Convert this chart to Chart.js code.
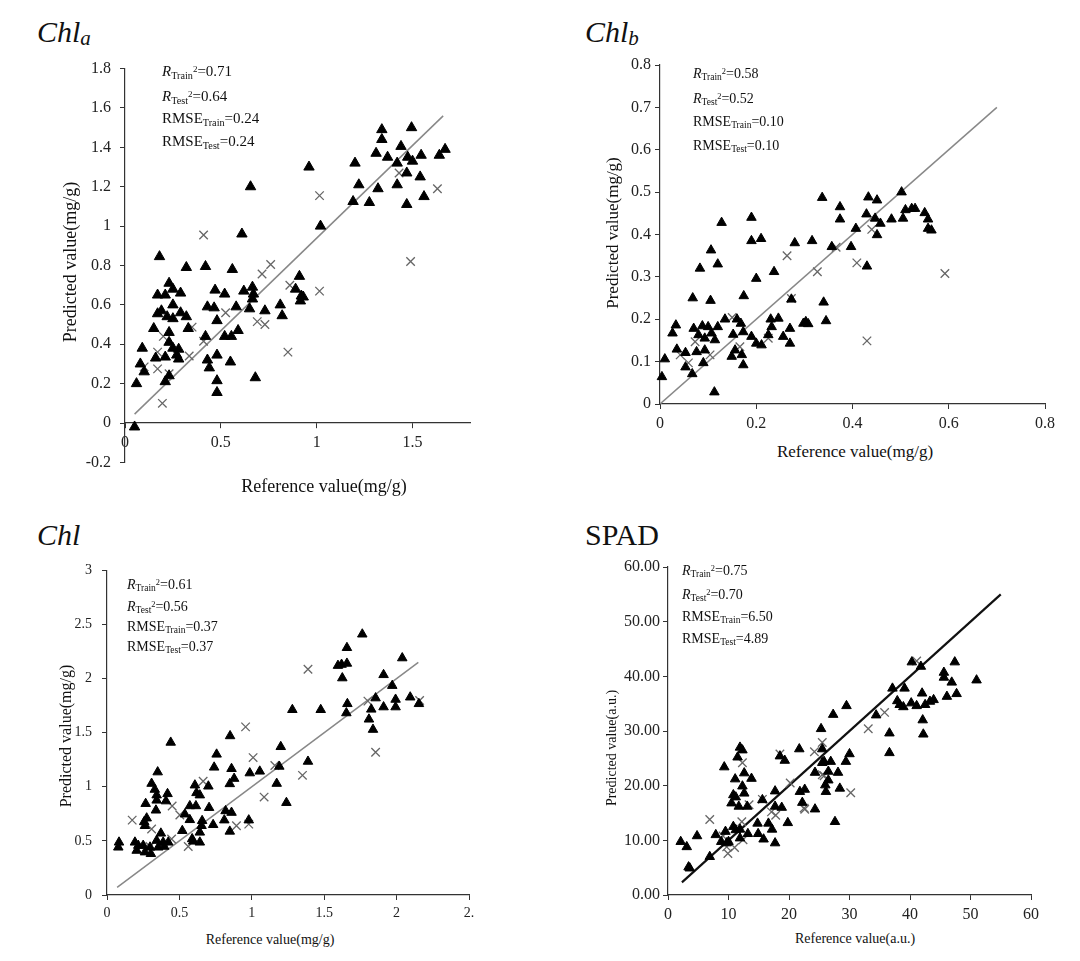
<!DOCTYPE html>
<html>
<head>
<meta charset="utf-8">
<script src="https://cdn.jsdelivr.net/npm/chart.js@4.4.1/dist/chart.umd.min.js"></script>
<style>
  body { margin: 0; background: #fff; font-family: "Liberation Serif", "Times New Roman", serif; color: #111; }
  #page { position: relative; width: 1080px; height: 961px; overflow: hidden; }
  .box { position: absolute; }
  .txt { position: absolute; white-space: nowrap; }
  .ptitle { font-size: 30px; line-height: 30px; font-style: italic; }
  .ptitle sub { font-size: 21px; vertical-align: -3px; }
  .stats sub { font-size: 0.68em; vertical-align: -0.25em; }
  .stats sup { font-size: 0.6em; vertical-align: 0.45em; }
  .ytitle { transform: translate(-50%, -50%) rotate(-90deg); }
  .xtitle { transform: translate(-50%, -50%); }
</style>
</head>
<body>
<div id="page">
  <div class="txt ptitle" style="left:37px;top:17px">Chl<sub>a</sub></div>
  <div class="txt ptitle" style="left:585px;top:17px">Chl<sub>b</sub></div>
  <div class="txt ptitle" style="left:37px;top:520px">Chl</div>
  <div class="txt ptitle" style="left:585px;top:520px;font-style:normal">SPAD</div>

  <div class="box" style="left:60px;top:50px"><canvas id="c1" width="430" height="431"></canvas></div>
  <div class="box" style="left:610px;top:50px"><canvas id="c2" width="450" height="384"></canvas></div>
  <div class="box" style="left:70px;top:552px"><canvas id="c3" width="410" height="371"></canvas></div>
  <div class="box" style="left:600px;top:552px"><canvas id="c4" width="445" height="371"></canvas></div>

  <div class="txt stats" style="left:162px;top:60px;font-size:15px;line-height:18px">
    <i>R</i><sub>Train</sub><sup>2</sup>=0.71<br><i>R</i><sub>Test</sub><sup>2</sup>=0.64<br>RMSE<sub>Train</sub>=0.24<br>RMSE<sub>Test</sub>=0.24
  </div>
  <div class="txt stats" style="left:693px;top:62px;font-size:14px;line-height:19px">
    <i>R</i><sub>Train</sub><sup>2</sup>=0.58<br><i>R</i><sub>Test</sub><sup>2</sup>=0.52<br>RMSE<sub>Train</sub>=0.10<br>RMSE<sub>Test</sub>=0.10
  </div>
  <div class="txt stats" style="left:127px;top:575px;font-size:14px;line-height:16.7px">
    <i>R</i><sub>Train</sub><sup>2</sup>=0.61<br><i>R</i><sub>Test</sub><sup>2</sup>=0.56<br>RMSE<sub>Train</sub>=0.37<br>RMSE<sub>Test</sub>=0.37
  </div>
  <div class="txt stats" style="left:682px;top:560px;font-size:14px;line-height:18.7px">
    <i>R</i><sub>Train</sub><sup>2</sup>=0.75<br><i>R</i><sub>Test</sub><sup>2</sup>=0.70<br>RMSE<sub>Train</sub>=6.50<br>RMSE<sub>Test</sub>=4.89
  </div>

  <div class="txt ytitle" style="left:70px;top:262px;font-size:18px">Predicted value(mg/g)</div>
  <div class="txt xtitle" style="left:324px;top:486px;font-size:18px">Reference value(mg/g)</div>
  <div class="txt ytitle" style="left:613px;top:233px;font-size:17px">Predicted value(mg/g)</div>
  <div class="txt xtitle" style="left:855px;top:452px;font-size:17px">Reference value(mg/g)</div>
  <div class="txt ytitle" style="left:66px;top:736px;font-size:16px">Predicted value(mg/g)</div>
  <div class="txt xtitle" style="left:270px;top:940px;font-size:14px">Reference value(mg/g)</div>
  <div class="txt ytitle" style="left:612px;top:748px;font-size:14px">Predicted value(a.u.)</div>
  <div class="txt xtitle" style="left:855px;top:939px;font-size:14px">Reference value(a.u.)</div>
</div>

<script>
// Chl a  [reference, predicted]
const chlaTrain = [
  [0.655,1.20],[0.61,0.96],[0.18,0.845],[0.32,0.79],[0.42,0.795],[0.56,0.78],[0.23,0.71],[0.25,0.68],
  [0.29,0.66],[0.17,0.65],[0.21,0.65],[0.47,0.675],[0.52,0.655],[0.62,0.67],[0.665,0.69],[0.67,0.655],
  [0.665,0.63],[0.25,0.60],[0.19,0.57],[0.17,0.555],[0.22,0.54],[0.25,0.53],[0.29,0.56],[0.32,0.54],
  [0.43,0.59],[0.465,0.585],[0.58,0.59],[0.65,0.58],[0.48,0.52],[0.73,0.57],[0.81,0.60],[0.82,0.545],
  [0.15,0.48],[0.23,0.46],[0.33,0.48],[0.42,0.44],[0.52,0.44],[0.555,0.44],[0.59,0.47],[0.23,0.41],
  [0.25,0.38],[0.28,0.375],[0.09,0.38],[0.16,0.33],[0.21,0.335],[0.27,0.345],[0.28,0.325],[0.08,0.30],
  [0.10,0.26],[0.23,0.24],[0.21,0.21],[0.06,0.20],[0.43,0.32],[0.44,0.28],[0.48,0.345],[0.55,0.31],
  [0.48,0.215],[0.48,0.155],[0.68,0.23],[0.05,-0.02],[0.91,0.745],[0.89,0.68],[0.92,0.645],[0.93,0.64],
  [0.915,0.62],[1.34,1.49],[1.495,1.50],[1.34,1.44],[1.44,1.405],[1.67,1.39],[1.31,1.37],[1.37,1.35],
  [1.475,1.35],[1.545,1.36],[1.64,1.36],[1.20,1.32],[1.42,1.32],[1.50,1.33],[0.96,1.30],[1.47,1.27],
  [1.54,1.25],[1.22,1.21],[1.32,1.19],[1.42,1.21],[1.56,1.15],[1.19,1.125],[1.275,1.12],[1.47,1.11],
  [1.02,1.00]
];
const chlaTest = [
  [0.41,0.955],[0.76,0.805],[0.715,0.757],[0.86,0.70],[0.525,0.56],[0.69,0.515],[0.73,0.50],[0.35,0.487],
  [0.20,0.44],[0.41,0.415],[0.17,0.36],[0.335,0.34],[0.10,0.285],[0.17,0.275],[0.23,0.25],[0.85,0.36],
  [0.195,0.10],[1.43,1.27],[1.63,1.19],[1.015,1.155],[1.49,0.82],[1.015,0.67]
];
const chlaFit = [[0.05,0.045],[1.66,1.56]];
const chlaXTicks = ["0","0.5","1","1.5"];
const chlaYTicks = ["-0.2","0","0.2","0.4","0.6","0.8","1","1.2","1.4","1.6","1.8"];

// Chl b
const chlbTrain = [
  [0.19,0.44],[0.128,0.428],[0.19,0.385],[0.21,0.39],[0.28,0.38],[0.106,0.363],[0.12,0.33],[0.083,0.32],
  [0.20,0.296],[0.237,0.312],[0.068,0.25],[0.105,0.244],[0.174,0.255],[0.273,0.247],[0.135,0.20],[0.16,0.20],
  [0.23,0.20],[0.246,0.202],[0.033,0.186],[0.026,0.167],[0.07,0.178],[0.088,0.184],[0.10,0.182],[0.12,0.182],
  [0.08,0.163],[0.107,0.167],[0.093,0.155],[0.114,0.151],[0.168,0.19],[0.173,0.17],[0.152,0.164],[0.19,0.159],
  [0.20,0.143],[0.211,0.139],[0.225,0.163],[0.232,0.182],[0.256,0.159],[0.27,0.143],[0.27,0.178],[0.298,0.19],
  [0.035,0.129],[0.053,0.121],[0.076,0.123],[0.093,0.127],[0.156,0.127],[0.149,0.112],[0.17,0.116],[0.01,0.106],
  [0.053,0.087],[0.09,0.097],[0.173,0.092],[0.067,0.071],[0.004,0.064],[0.113,0.028],
  [0.502,0.50],[0.337,0.487],[0.433,0.488],[0.451,0.481],[0.374,0.465],[0.374,0.436],[0.429,0.448],[0.447,0.438],
  [0.458,0.426],[0.481,0.436],[0.505,0.438],[0.51,0.458],[0.523,0.461],[0.53,0.461],[0.55,0.451],[0.557,0.436],
  [0.557,0.414],[0.564,0.41],[0.407,0.414],[0.451,0.399],[0.316,0.385],[0.357,0.371],[0.397,0.371],[0.43,0.325],
  [0.34,0.24],[0.303,0.194],[0.308,0.189],[0.345,0.196]
];
const chlbTest = [
  [0.264,0.35],[0.073,0.147],[0.042,0.116],[0.059,0.097],[0.104,0.116],[0.166,0.135],[0.225,0.155],[0.15,0.204],
  [0.273,0.249],[0.44,0.412],[0.366,0.37],[0.409,0.333],[0.327,0.312],[0.592,0.308],[0.43,0.149]
];
const chlbFit = [[0,0],[0.7,0.7]];
const chlbXTicks = ["0","0.2","0.4","0.6","0.8"];
const chlbYTicks = ["0","0.1","0.2","0.3","0.4","0.5","0.6","0.7","0.8"];

// Chl
const chlTrain = [
  [0.44,1.41],[0.85,1.47],[0.757,1.30],[0.74,1.18],[0.86,1.167],[1.20,1.37],[0.35,1.136],[0.986,1.127],
  [1.055,1.143],[0.878,1.076],[0.848,1.027],[0.308,1.03],[0.33,0.975],[0.343,0.923],[0.343,0.875],[0.418,0.935],
  [0.407,0.868],[0.607,1.015],[0.618,0.944],[0.641,0.923],[0.70,1.005],[0.267,0.844],[0.572,0.823],[0.614,0.823],
  [0.705,0.807],[0.538,0.747],[0.572,0.695],[0.657,0.686],[0.819,0.777],[0.86,0.762],[1.172,1.03],[0.338,0.783],
  [0.274,0.71],[0.257,0.676],[0.262,0.64],[0.52,0.594],[0.653,0.64],[0.733,0.649],[0.81,0.692],[0.848,0.588],
  [0.979,0.692],[0.641,0.579],[0.372,0.57],[0.588,0.518],[0.595,0.496],[0.641,0.487],[0.343,0.503],[0.388,0.487],
  [0.423,0.487],[0.083,0.487],[0.078,0.441],[0.193,0.487],[0.216,0.457],[0.205,0.411],[0.25,0.457],[0.262,0.396],
  [0.303,0.381],[0.297,0.441],[0.354,0.441],[0.395,0.448],
  [1.763,2.41],[1.657,2.285],[1.595,2.12],[1.62,2.13],[1.657,2.14],[1.625,2.005],[2.039,2.19],[1.91,2.035],
  [1.97,1.935],[1.855,1.82],[1.993,1.807],[2.094,1.828],[2.154,1.767],[1.66,1.767],[1.653,1.682],[1.825,1.716],
  [1.91,1.737],[1.993,1.737],[1.28,1.712],[1.476,1.712],[1.809,1.624],[1.837,1.529],[1.19,1.188],[1.388,1.234],
  [1.239,0.853]
];
const chlTest = [
  [0.957,1.554],[1.009,1.27],[0.664,1.051],[1.085,0.905],[0.45,0.823],[0.503,0.74],[0.174,0.692],[0.308,0.61],
  [0.894,0.64],[0.979,0.655],[0.446,0.518],[0.297,0.448],[0.561,0.448],[1.159,1.197],[1.388,2.087],[1.802,1.792],
  [2.159,1.798],[1.855,1.319],[1.35,1.106]
];
const chlFit = [[0.07,0.07],[2.15,2.15]];
const chlXTicks = ["0","0.5","1","1.5","2","2."];
const chlYTicks = ["0","0.5","1","1.5","2","2.5","3"];

// SPAD
const spadTrain = [
  [25.3,30.4],[11.9,27.0],[12.3,26.5],[11.5,25.2],[9.3,23.4],[12.6,22.3],[13.8,21.3],[11.1,21.2],
  [12.3,19.9],[12.6,18.6],[10.8,18.3],[11.2,17.9],[10.5,16.8],[11.7,16.2],[13.1,16.2],[18.5,25.4],
  [19.3,24.6],[21.7,26.7],[25.5,26.7],[15.6,17.4],[17.7,19.0],[17.7,16.2],[18.8,16.0],[21.8,18.9],
  [22.6,19.3],[22.2,16.9],[24.3,15.7],[24.3,22.4],[25.5,24.2],[14.8,13.1],[16.6,13.1],[19.8,13.2],
  [17.2,12.0],[14.9,11.2],[15.8,10.2],[17.7,9.5],[7.9,11.0],[9.5,11.6],[10.8,12.5],[11.2,11.9],
  [11.9,12.0],[13.2,11.2],[10.0,9.75],[11.9,10.4],[4.8,10.8],[2.1,9.75],[3.1,8.8],[6.9,7.0],
  [3.4,5.1],[3.6,4.9],[9.7,9.5],[8.8,9.75],
  [40.3,42.6],[47.4,42.6],[41.8,41.8],[45.6,40.7],[45.6,39.8],[46.9,38.9],[51.0,39.3],[37.1,37.8],
  [39.1,37.8],[42.0,36.9],[47.7,36.8],[46.1,36.3],[37.9,35.5],[38.3,34.8],[38.9,34.4],[40.2,35.1],
  [41.1,34.6],[42.5,34.8],[43.3,35.4],[43.9,35.7],[29.5,34.6],[27.3,33.0],[34.4,32.9],[42.1,32.0],
  [42.2,29.4],[36.6,29.6],[36.6,26.0],[30.0,25.8],[29.4,24.4],[25.8,24.4],[26.9,24.4],[26.5,22.6],
  [28.1,22.4],[26.5,21.0],[26.0,20.1],[28.4,19.5],[26.1,18.9],[27.6,13.4]
];
const spadTest = [
  [6.9,13.8],[12.3,24.2],[18.5,25.8],[24.2,26.2],[25.5,27.9],[25.5,22.0],[20.2,20.5],[13.4,16.5],
  [15.6,17.5],[17.1,15.2],[17.8,14.6],[22.5,15.9],[12.2,13.4],[12.4,10.1],[9.1,10.8],[9.7,8.8],
  [9.9,7.6],[11.0,8.7],[41.1,42.8],[35.8,33.4],[33.1,30.4],[25.8,21.8],[30.2,18.7],[22.6,15.7]
];
const spadFit = [[2.3,2.3],[55,55]];
const spadXTicks = ["0","10","20","30","40","50","60"];
const spadYTicks = ["0.00","10.00","20.00","30.00","40.00","50.00","60.00"];

const toXY = arr => arr.map(p => ({x: p[0], y: p[1]}));

function scatterPanel(id, p){
  const tickFont = {family: "Liberation Serif", size: p.fontSize};
  return new Chart(document.getElementById(id), {
    type: "scatter",
    data: {
      datasets: [
        {data: toXY(p.train), pointStyle: "triangle", pointRadius: p.r, backgroundColor: "#000", borderColor: "#000", borderWidth: 1, clip: false},
        {data: toXY(p.test), pointStyle: "crossRot", pointRadius: 6, backgroundColor: "rgba(0,0,0,0)", borderColor: "#666", borderWidth: 1.3, clip: false},
        {data: toXY(p.fit), showLine: true, pointRadius: 0, borderColor: p.lineColor, borderWidth: p.lineWidth, fill: false}
      ]
    },
    options: {
      responsive: false,
      animation: false,
      layout: {padding: {top: p.padTop, right: p.padRight, bottom: p.padBottom, left: 0}},
      plugins: {legend: {display: false}, tooltip: {enabled: false}},
      scales: {
        x: {
          type: "linear",
          position: p.xPos,
          min: p.xMin, max: p.xMax,
          grid: {drawOnChartArea: false, drawTicks: true, tickLength: 5, color: "#333"},
          border: {color: "#333", width: 1.2},
          ticks: {stepSize: p.xStep, includeBounds: false, padding: p.xPad, color: "#222", font: tickFont, maxRotation: 0,
                  callback: (v, i) => p.xTicks[i]},
          afterFit: s => { s.height = p.xHeight; }
        },
        y: {
          type: "linear",
          min: p.yMin, max: p.yMax,
          grid: {drawOnChartArea: false, drawTicks: true, tickLength: 5, color: "#333"},
          border: {color: "#333", width: 1.2},
          ticks: {stepSize: p.yStep, includeBounds: false, padding: p.yPad, color: "#222", font: tickFont,
                  callback: (v, i) => p.yTicks[i]},
          afterFit: s => { s.width = p.yWidth; }
        }
      }
    }
  });
}

scatterPanel("c1", {
  train: chlaTrain, test: chlaTest, fit: chlaFit, xTicks: chlaXTicks, yTicks: chlaYTicks,
  xMin: 0, xMax: 1.8, xStep: 0.5, yMin: -0.2, yMax: 1.8, yStep: 0.2, xPos: {y: 0},
  r: 6, lineColor: "#888", lineWidth: 1.5, fontSize: 16, xPad: 5, yPad: 9,
  padTop: 16, padRight: 20, padBottom: 12, xHeight: 0, yWidth: 65
});
scatterPanel("c2", {
  train: chlbTrain, test: chlbTest, fit: chlbFit, xTicks: chlbXTicks, yTicks: chlbYTicks,
  xMin: 0, xMax: 0.8, xStep: 0.2, yMin: 0, yMax: 0.8, yStep: 0.1, xPos: "bottom",
  r: 5.5, lineColor: "#888", lineWidth: 1.5, fontSize: 16, xPad: 5, yPad: 4,
  padTop: 15, padRight: 15, padBottom: 0, xHeight: 30, yWidth: 50
});
scatterPanel("c3", {
  train: chlTrain, test: chlTest, fit: chlFit, xTicks: chlXTicks, yTicks: chlYTicks,
  xMin: 0, xMax: 2.5, xStep: 0.5, yMin: 0, yMax: 3, yStep: 0.5, xPos: "bottom",
  r: 5.5, lineColor: "#888", lineWidth: 1.5, fontSize: 14, xPad: 5, yPad: 10,
  padTop: 15, padRight: 11, padBottom: 0, xHeight: 28, yWidth: 37
});
scatterPanel("c4", {
  train: spadTrain, test: spadTest, fit: spadFit, xTicks: spadXTicks, yTicks: spadYTicks,
  xMin: 0, xMax: 60, xStep: 10, yMin: 0, yMax: 60, yStep: 10, xPos: "bottom",
  r: 5.5, lineColor: "#111", lineWidth: 2.2, fontSize: 16, xPad: 5, yPad: 3,
  padTop: 15, padRight: 14, padBottom: 0, xHeight: 28, yWidth: 68
});
</script>
</body>
</html>
